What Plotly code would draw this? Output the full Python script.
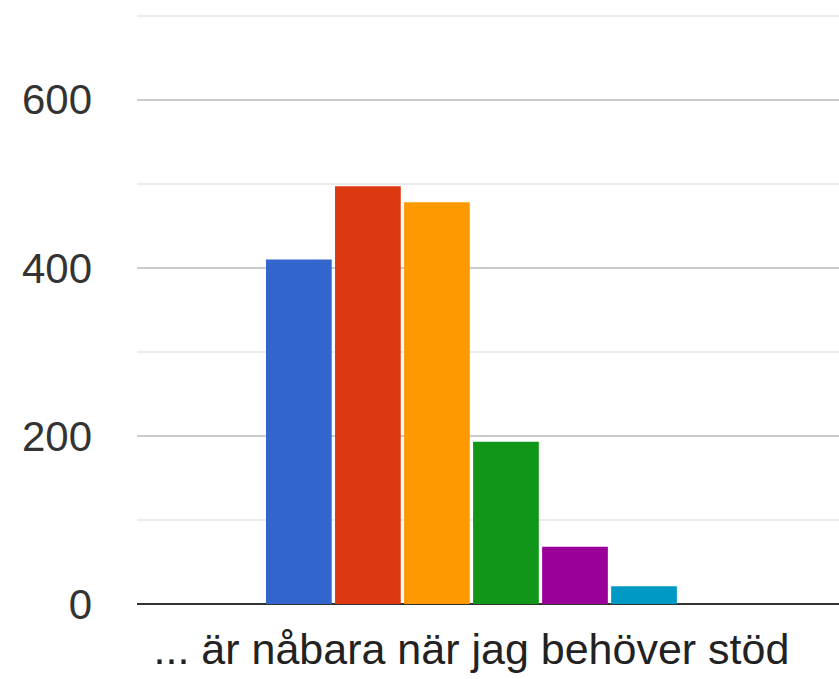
import plotly.graph_objects as go

categories = ["... är nåbara när jag behöver stöd"]
series_names = ["Alternativ 1", "Alternativ 2", "Alternativ 3", "Alternativ 4", "Alternativ 5", "Alternativ 6"]
series_values = [410, 497, 478, 193, 68, 21]
series_colors = ["#3366cc", "#dc3912", "#ff9900", "#109618", "#990099", "#0099c6"]
y_tick_vals = [0, 200, 400, 600]
y_tick_text = ["0", "200", "400", "600"]

fig = go.Figure()
for name, val, col in zip(series_names, series_values, series_colors):
    fig.add_trace(go.Bar(x=categories, y=[val], name=name, marker=dict(color=col, line=dict(width=0))))

fig.update_layout(
    width=839, height=679,
    margin=dict(l=137, r=0, t=14, b=75, autoexpand=False),
    paper_bgcolor="white", plot_bgcolor="white",
    barmode="group", bargap=0.41, bargroupgap=0.048,
    showlegend=False,
    font=dict(family="Arial, Liberation Sans, sans-serif", size=43, color="#333333"),
    xaxis=dict(range=[-0.4764, 0.5236], showgrid=False, showline=False, zeroline=False,
               ticks="", ticklabelstandoff=16, automargin=False,
               tickfont=dict(size=43, color="#222222"), fixedrange=True),
    yaxis=dict(range=[0, 702], tickvals=y_tick_vals, ticktext=y_tick_text,
               showgrid=True, gridcolor="#cccccc", gridwidth=2,
               zeroline=True, zerolinecolor="#333333", zerolinewidth=2,
               showline=False, ticks="", ticklabelstandoff=44, automargin=False,
               tickfont=dict(size=42, color="#333333"), fixedrange=True,
               minor=dict(dtick=100, tick0=0, showgrid=True, gridcolor="#ebebeb", gridwidth=2)),
)

fig.write_html("out.html", config={"displayModeBar": False},
               post_script="document.body.style.margin='0';document.body.style.overflow='hidden';")
